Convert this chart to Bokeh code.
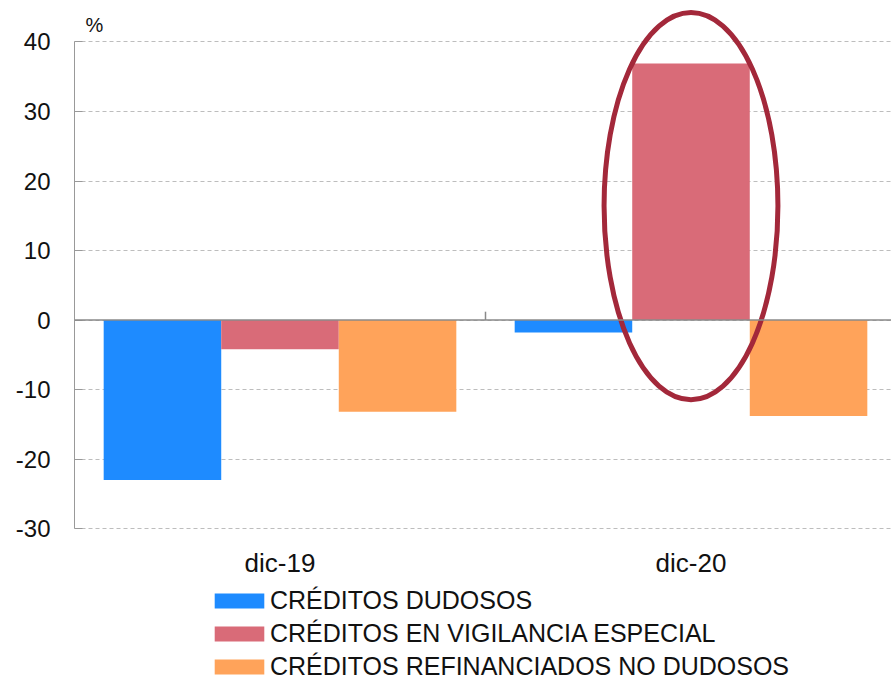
from bokeh.plotting import figure
from bokeh.models import (Range1d, FixedTicker, Span, Label, Legend, LegendItem)
from bokeh.embed import file_html
from bokeh.resources import INLINE

# ---- data ----
categories = ["dic-19", "dic-20"]
series_names = ["CRÉDITOS DUDOSOS", "CRÉDITOS EN VIGILANCIA ESPECIAL",
                "CRÉDITOS REFINANCIADOS NO DUDOSOS"]
dudosos = [-23.0, -1.8]
vigilancia = [-4.2, 36.9]
refinanciados = [-13.2, -13.8]
y_ticks = [-30, -20, -10, 0, 10, 20, 30, 40]
unit_label = "%"

# highlight ellipse around dic-20 vigilancia bar (data units)
highlight_x = [1.5]
highlight_y = [16.4]
highlight_w = [0.423]
highlight_h = [55.7]

colors = ["#1E8BFF", "#D96B78", "#FFA35A"]
FONT = "Liberation Sans"

centers = [i + 0.5 for i in range(len(categories))]
bar_w = 0.286
offsets = [-bar_w, 0.0, bar_w]

p = figure(width=891, height=681, output_backend="svg", toolbar_location=None,
           x_range=Range1d(0, 817 / 411), y_range=Range1d(-52.0, 45.97),
           min_border_left=74, min_border_right=0, min_border_top=0,
           min_border_bottom=0)
p.outline_line_color = None
p.background_fill_color = "white"

renderers = []
for vals, off, col in zip([dudosos, vigilancia, refinanciados], offsets, colors):
    r = p.vbar(x=[c + off for c in centers], top=vals, bottom=0, width=bar_w,
               fill_color=col, line_color=None)
    renderers.append(r)

# zero line and group separator tick
p.add_layout(Span(location=0, dimension="width", line_color="#8a8a8a", line_width=1.5))
p.segment(x0=[1.0], y0=[0], x1=[1.0], y1=[1.2], line_color="#8a8a8a", line_width=1.5)

# highlight ellipse
p.ellipse(x=highlight_x, y=highlight_y, width=highlight_w, height=highlight_h,
          fill_color=None, line_color="#A3283A", line_width=5)

# y axis
p.yaxis.ticker = FixedTicker(ticks=y_ticks)
p.yaxis.major_label_overrides = {t: str(t) for t in y_ticks}
p.yaxis.bounds = (-30, 40)
p.yaxis.axis_line_color = "#999999"
p.yaxis.major_tick_in = 8
p.yaxis.major_tick_out = 0
p.yaxis.major_tick_line_color = "#999999"
p.yaxis.minor_tick_line_color = None
p.yaxis.major_label_text_font = FONT
p.yaxis.major_label_text_font_size = "24px"
p.yaxis.major_label_text_color = "#111111"
p.yaxis.major_label_standoff = 24

p.ygrid.ticker = FixedTicker(ticks=y_ticks)
p.ygrid.grid_line_color = "#bdbdbd"
p.ygrid.grid_line_dash = "4 3"
p.ygrid.grid_line_width = 1
p.xgrid.grid_line_color = None

# x axis, drawn just under the -30 line
p.xaxis.fixed_location = -30
p.xaxis.ticker = FixedTicker(ticks=centers)
p.xaxis.major_label_overrides = {c: lab for c, lab in zip(centers, categories)}
p.xaxis.axis_line_color = None
p.xaxis.major_tick_line_color = None
p.xaxis.minor_tick_line_color = None
p.xaxis.major_label_text_font = FONT
p.xaxis.major_label_text_font_size = "26px"
p.xaxis.major_label_text_color = "#111111"
p.xaxis.major_label_standoff = 13

# unit label
p.add_layout(Label(x=0.027, y=42.4, text=unit_label, text_font=FONT,
                   text_font_size="20px", text_baseline="middle", text_color="#111111"))

legend = Legend(items=[LegendItem(label=n, renderers=[r]) for n, r in zip(series_names, renderers)],
                location=(134, 0), orientation="vertical",
                glyph_width=62, glyph_height=19, label_standoff=0, spacing=4,
                padding=0, margin=0, border_line_color=None,
                background_fill_alpha=0,
                label_text_font=FONT, label_text_font_size="25px",
                label_text_color="#111111")
p.add_layout(legend, "center")

open("out.html", "w").write(file_html(p, INLINE))
